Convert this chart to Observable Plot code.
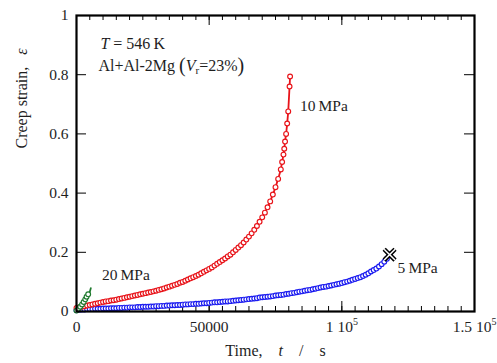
<!DOCTYPE html>
<html><head><meta charset="utf-8">
<script src="https://cdn.jsdelivr.net/npm/d3@7"></script>
<script src="https://cdn.jsdelivr.net/npm/@observablehq/plot@0.6"></script>
<style>
body{margin:0;background:#fff}
#chart svg{font-family:"Liberation Serif","Times New Roman",serif;}
</style>
</head><body><div id="chart"></div><script>
// ---- data (time in kiloseconds, creep strain) ----
const t10 = [0,1,2,3,4,5,6,7,8,9,10,11,12,13,14,15,16,17,18,19,20,21,22,23,24,25,26,27,28,29,30,31,32,33,34,35,36,37,38,39,40,41,42,43,44,45,46,47,48,49,50,51,52,53,54,55,56,57,58,59,60,61,62,63,64,65,66,67,68,69,70,71,72,73,74,75,76,77,77.5,78,78.3,78.6,79,79.4,79.8,80.3,80.5];
const e10 = [0.012,0.014,0.016,0.018,0.020,0.022,0.024,0.026,0.028,0.030,0.032,
 0.034,0.035,0.037,0.038,0.040,0.042,0.044,0.046,0.048,0.050,
 0.052,0.054,0.056,0.058,0.060,0.062,0.064,0.066,0.068,0.070,
 0.073,0.075,0.078,0.081,0.084,0.087,0.090,0.093,0.097,0.100,
 0.104,0.108,0.112,0.116,0.120,0.124,0.129,0.134,0.139,0.144,
 0.149,0.155,0.161,0.167,0.173,0.179,0.186,0.192,0.200,0.208,
 0.216,0.224,0.233,0.243,0.253,0.264,0.276,0.289,0.303,0.318,
 0.334,0.352,0.372,0.395,0.420,0.448,0.480,0.505,0.530,0.550,0.574,0.600,0.635,0.676,0.760,0.794];

const t5 = [0,1,2,3,4,5,6,7,8,9,10,11,12,13,14,15,16,17,18,19,20,21,22,23,24,25,26,27,28,29,30,31,32,33,34,35,36,37,38,39,40,41,42,43,44,45,46,47,48,49,50,51,52,53,54,55,56,57,58,59,60,61,62,63,64,65,66,67,68,69,70,71,72,73,74,75,76,77,78,79,80,81,82,83,84,85,86,87,88,89,90,91,92,93,94,95,96,97,98,99,100,101,102,103,104,105,106,107,108,109,110,111,112,113,114,115,116,117,118];
const e5 = [0.004,0.006,0.007,0.007,0.008,0.008,0.008,0.009,0.009,0.009,0.010,
 0.010,0.010,0.011,0.011,0.011,0.012,0.012,0.013,0.013,0.014,
 0.014,0.014,0.015,0.015,0.016,0.016,0.016,0.017,0.017,0.018,
 0.018,0.019,0.019,0.020,0.020,0.021,0.021,0.022,0.022,0.023,
 0.024,0.024,0.025,0.025,0.026,0.026,0.027,0.028,0.028,0.029,
 0.030,0.031,0.031,0.032,0.033,0.034,0.034,0.035,0.036,0.037,
 0.038,0.039,0.040,0.041,0.042,0.043,0.044,0.045,0.047,0.048,
 0.049,0.050,0.051,0.052,0.054,0.055,0.056,0.057,0.059,0.060,
 0.062,0.063,0.065,0.067,0.068,0.070,0.072,0.073,0.075,0.077,
 0.079,0.081,0.083,0.084,0.086,0.088,0.090,0.092,0.094,0.096,
 0.099,0.101,0.104,0.107,0.110,0.113,0.116,0.120,0.124,0.129,
 0.135,0.140,0.145,0.152,0.160,0.168,0.178,0.192];

const t20 = [0,0.7,1.4,2.1,2.7,3.3,3.8,4.4];
const e20 = [0.003,0.009,0.016,0.024,0.032,0.041,0.050,0.058];
const t20tail = [4.4,5.0,5.4];
const e20tail = [0.058,0.066,0.079];

const fractureT = [118];
const fractureE = [0.192];

const seriesNames = ["10\u2009MPa","5\u2009MPa","20\u2009MPa"];
const seriesColors = ["#e8141a","#1c1cf0","#1f7a2e"];
const labelT = [84.2, 121, 9.6];
const labelE = [0.693, 0.148, 0.124];

const noteTexts = ["T = 546 K", "Al+Al-2Mg (Vr=23%)"];
const noteT = [9.0, 8.3];
const noteE = [0.905, 0.831];

const xMajorTicks = [0, 50000, 100000, 150000];
const xTickLabels = ["0", "50000", "1 10^5", "1.5 10^5"];
const yTicks = [0, 0.2, 0.4, 0.6, 0.8, 1];
const yTickLabels = ["0", "0.2", "0.4", "0.6", "0.8", "1"];
const xMinorTicks = d3.range(0, 150001, 5000);
const xTitle = "Time, t / s";
const yTitle = "Creep strain, e";

// ---- tables ----
const toRows = (ts, es) => ts.map((t, i) => ({t: t * 1000, e: es[i]}));
const r10 = toRows(t10, e10), r5 = toRows(t5, e5), r20 = toRows(t20, e20), r20tail = toRows(t20tail, e20tail);
const frac = toRows(fractureT, fractureE);
const labels = seriesNames.map((s, i) => ({t: labelT[i] * 1000, e: labelE[i], s}));
const notes = noteTexts.map((s, i) => ({t: noteT[i] * 1000, e: noteE[i], s}));

const W = 497, H = 363, mL = 76, mR = 23, mT = 15, mB = 52;
const iW = W - mL - mR, iH = H - mT - mB;
const ink = "#1e1e1e";

const plot = Plot.plot({
  width: W, height: H,
  marginLeft: mL, marginRight: mR, marginTop: mT, marginBottom: mB,
  x: {domain: [0, 150000]},
  y: {domain: [0, 1]},
  style: {fontFamily: "'Liberation Serif','Times New Roman',serif", fontSize: "15px", color: ink, background: "#fff", overflow: "visible"},
  marks: [
    Plot.tickX(xMinorTicks, {x: d => d, insetTop: iH - 5, stroke: "#000"}),
    Plot.tickX(xMinorTicks, {x: d => d, insetBottom: iH - 5, stroke: "#000"}),
    Plot.tickX(xMajorTicks, {x: d => d, insetTop: iH - 10, stroke: "#000"}),
    Plot.tickX(xMajorTicks, {x: d => d, insetBottom: iH - 10, stroke: "#000"}),
    Plot.tickY(yTicks, {y: d => d, insetRight: iW - 10, stroke: "#000"}),
    Plot.tickY(yTicks, {y: d => d, insetLeft: iW - 10, stroke: "#000"}),
    Plot.axisX({ticks: xMajorTicks, tickSize: 0, tickPadding: 9, fontSize: 15.5, label: null,
      tickFormat: d => xTickLabels[xMajorTicks.indexOf(d)]}),
    Plot.axisY({ticks: yTicks, tickSize: 0, tickPadding: 8, fontSize: 15.5, label: null,
      tickFormat: d => yTickLabels[yTicks.indexOf(d)]}),
    Plot.text([xTitle], {frameAnchor: "bottom", dy: 44, text: d => d, fontSize: 16, fill: ink}),
    Plot.text([yTitle], {frameAnchor: "left", dx: -55, dy: -15, rotate: -90, text: d => d, fontSize: 16, fill: ink}),
    // 5 MPa
    Plot.line(r5, {x: "t", y: "e", stroke: seriesColors[1], strokeWidth: 1.2}),
    Plot.dot(r5, {x: "t", y: "e", r: 2.4, stroke: seriesColors[1], strokeWidth: 1.15, fill: "#fff"}),
    // 10 MPa
    Plot.line(r10, {x: "t", y: "e", stroke: seriesColors[0], strokeWidth: 1.8}),
    Plot.dot(r10, {x: "t", y: "e", r: 2.4, stroke: seriesColors[0], strokeWidth: 1.15, fill: "#fff"}),
    // 20 MPa
    Plot.line(r20tail, {x: "t", y: "e", stroke: seriesColors[2], strokeWidth: 1.8}),
    Plot.line(r20, {x: "t", y: "e", stroke: seriesColors[2], strokeWidth: 1.2}),
    Plot.dot(r20, {x: "t", y: "e", r: 2.4, stroke: seriesColors[2], strokeWidth: 1.15, fill: "#fff"}),
    // fracture mark
    Plot.dot(frac, {x: "t", y: "e", symbol: "times", r: 5, stroke: "#000", strokeWidth: 4.5}),
    Plot.dot(frac, {x: "t", y: "e", symbol: "times", r: 5, stroke: "#fff", strokeWidth: 1.5}),
    // labels
    Plot.text(labels, {x: "t", y: "e", text: "s", textAnchor: "start", fontSize: 15.5, fill: ink}),
    Plot.text(notes, {x: "t", y: "e", text: "s", textAnchor: "start", fontSize: 16, fill: ink}),
    Plot.frame({stroke: "#000", strokeWidth: 2.2})
  ]
});

// rich text formatting (italics, super/subscripts)
const sp = "&#160;";
const rich = {
  "1 10^5": '1 10<tspan dy="-7" font-size="10">5</tspan>',
  "1.5 10^5": '1.5 10<tspan dy="-7" font-size="10">5</tspan>',
  "Time, t / s": 'Time,' + sp.repeat(4) + '<tspan font-style="italic">t</tspan>' + sp.repeat(4) + '/' + sp.repeat(4) + 's',
  "Creep strain, e": 'Creep strain,' + sp.repeat(3) + '<tspan font-style="italic">ε</tspan>',
  "T = 546 K": '<tspan font-style="italic">T</tspan> = 546' + '&#8201;K',
  "Al+Al-2Mg (Vr=23%)": 'Al+Al-2Mg' + sp + '<tspan font-size="20" dy="1">(</tspan><tspan font-style="italic" dy="-1">V</tspan><tspan font-size="11" dy="3">r</tspan><tspan dy="-3">=23%</tspan><tspan font-size="20" dy="1">)</tspan>'
};
plot.querySelectorAll("text").forEach(el => {
  const k = el.textContent;
  if (rich[k] !== undefined) el.innerHTML = rich[k];
});
document.getElementById("chart").appendChild(plot);
</script></body></html>
